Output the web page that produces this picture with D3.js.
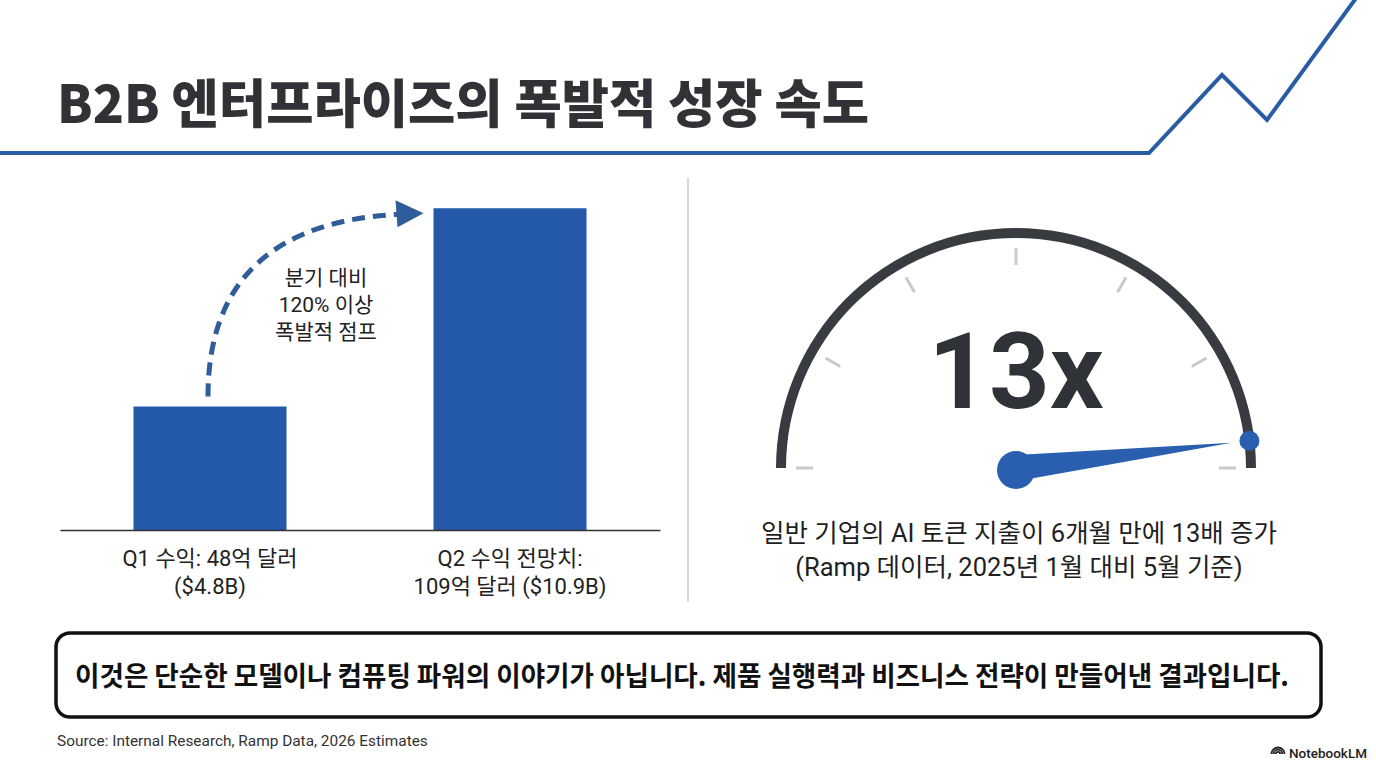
<!DOCTYPE html>
<html>
<head>
<meta charset="utf-8">
<script src="https://cdn.jsdelivr.net/npm/d3@7"></script>
<style>
  body { margin: 0; background: #fff; }
  svg { display: block; }
  text { font-family: Roboto, "Noto Sans CJK KR", sans-serif; }
</style>
</head>
<body>
<div id="chart"></div>
<script>
// bar chart data
var quarters = ["Q1", "Q2"];
var revenue = [4.8, 10.9];
var barLabels = [
  ["Q1 수익: 48억 달러", "($4.8B)"],
  ["Q2 수익 전망치:", "109억 달러 ($10.9B)"]
];
var jumpNote = ["분기 대비", "120% 이상", "폭발적 점프"];

// gauge data
var gaugeValue = 13;
var gaugeMax = 13.5;
var gaugeTicks = [0, 2.25, 4.5, 6.75, 9, 11.25, 13.5];
var gaugeCaption = [
  "일반 기업의 AI 토큰 지출이 6개월 만에 13배 증가",
  "(Ramp 데이터, 2025년 1월 대비 5월 기준)"
];

// header trend line (x, y in px)
var trendPts = [[0, 153], [1149, 153], [1222, 75], [1267, 120], [1362, -10]];

var W = 1376, H = 768;
var blue = "#2459a9";
var dark = "#2f3237";

var svg = d3.select("#chart").append("svg")
  .attr("width", W)
  .attr("height", H);

// title
svg.append("text")
  .attr("x", 57)
  .attr("y", 123)
  .attr("textLength", 812)
  .attr("lengthAdjust", "spacingAndGlyphs")
  .style("font-family", "'Noto Sans CJK KR', sans-serif")
  .style("font-weight", 900)
  .style("font-size", "52px")
  .style("fill", "#303236")
  .text("B2B 엔터프라이즈의 폭발적 성장 속도");

svg.append("path")
  .datum(trendPts)
  .attr("d", d3.line())
  .attr("fill", "none")
  .attr("stroke", "#2a5ca4")
  .attr("stroke-width", 4)
  .attr("stroke-linejoin", "miter");

// divider
svg.append("line")
  .attr("x1", 688).attr("x2", 688)
  .attr("y1", 178).attr("y2", 602)
  .style("stroke", "#cfcfcf")
  .style("stroke-width", 1.5);

// ---- bar chart ----
var x = d3.scaleBand()
  .domain(quarters)
  .range([60, 660])
  .paddingInner(0.49)
  .paddingOuter(0.245);

var y = d3.scaleLinear()
  .domain([1, 11])
  .range([530, 205]);

var bars = svg.append("g");

bars.selectAll("rect").data(revenue).enter().append("rect")
  .attr("x", function(d, i){ return x(quarters[i]); })
  .attr("y", function(d){ return y(d); })
  .attr("width", x.bandwidth())
  .attr("height", function(d){ return y(1) - y(d); })
  .attr("fill", blue);

var xAxis = svg.append("g")
  .attr("transform", "translate(0,530)")
  .call(d3.axisBottom(x).tickSize(0).tickFormat(""));
xAxis.select(".domain").attr("stroke", "#333").attr("stroke-width", 1.5);

barLabels.forEach(function(lines, i){
  var cx = x(quarters[i]) + x.bandwidth() / 2;
  svg.append("text")
    .attr("text-anchor", "middle")
    .style("font-size", "22px")
    .style("fill", "#222")
    .selectAll("tspan").data(lines).enter().append("tspan")
      .attr("x", cx)
      .attr("y", function(d, j){ return 566 + j * 28; })
      .text(function(d){ return d; });
});

// dashed jump arrow from top of Q1 to top of Q2
var x0 = x(quarters[0]) + x.bandwidth() / 2 - 2;
var y0 = y(revenue[0]) - 10;
var x1 = x(quarters[1]) - 34;
var y1 = y(revenue[1]) + 6;

svg.append("path")
  .attr("d", "M" + x0 + "," + y0 + " C" + x0 + "," + (y0 - 120) + " " + (x0 + 70) + "," + (y1 + 6) + " " + x1 + "," + y1)
  .attr("fill", "none")
  .attr("stroke", "#2f5d99")
  .attr("stroke-width", 5)
  .attr("stroke-dasharray", "13,8");

svg.append("path")
  .attr("d", "M" + (x1 - 4) + "," + (y1 - 14) + " L" + (x1 + 24) + "," + (y1 - 1) + " L" + (x1 - 2) + "," + (y1 + 13) + " Z")
  .attr("fill", "#2f5d99");

svg.append("text")
  .attr("text-anchor", "middle")
  .style("font-size", "21px")
  .style("fill", "#222")
  .selectAll("tspan").data(jumpNote).enter().append("tspan")
    .attr("x", 326)
    .attr("y", function(d, j){ return 285 + j * 27; })
    .text(function(d){ return d; });

// ---- gauge ----
var gcx = 1016, gcy = 468, gr = 235;
var g = svg.append("g").attr("transform", "translate(" + gcx + "," + gcy + ")");

var angle = d3.scaleLinear()
  .domain([0, gaugeMax])
  .range([-Math.PI / 2, Math.PI / 2]);

g.append("path")
  .attr("d", d3.arc()
    .innerRadius(gr - 5)
    .outerRadius(gr + 5)
    .startAngle(angle(0))
    .endAngle(angle(gaugeMax)))
  .attr("fill", "#383b40");

g.selectAll(".tick").data(gaugeTicks).enter().append("line")
  .attr("class", "tick")
  .attr("x1", function(d){ return Math.sin(angle(d)) * (gr - 32); })
  .attr("y1", function(d){ return -Math.cos(angle(d)) * (gr - 32); })
  .attr("x2", function(d){ return Math.sin(angle(d)) * (gr - 15); })
  .attr("y2", function(d){ return -Math.cos(angle(d)) * (gr - 15); })
  .attr("stroke", "#c9c9c9")
  .attr("stroke-width", 3);

g.append("text")
  .attr("x", 0)
  .attr("y", -60)
  .attr("text-anchor", "middle")
  .style("font-family", "Roboto, 'Noto Sans', sans-serif")
  .style("font-weight", 700)
  .style("font-size", "106px")
  .style("fill", dark)
  .text("13x");

// needle
var a = angle(gaugeValue);
var tipR = gr - 18, hubW = 13;
var tx = Math.sin(a) * tipR, ty = -Math.cos(a) * tipR;
var px = Math.cos(a) * hubW, py = Math.sin(a) * hubW;

g.append("path")
  .attr("d", "M" + (-px) + "," + (-py) + " L" + tx + "," + ty + " L" + px + "," + py + " Z")
  .attr("fill", "#2a5fb0");

g.append("circle")
  .attr("cx", 0).attr("cy", 2)
  .attr("r", 19)
  .attr("fill", "#2a5fb0");

g.append("circle")
  .attr("cx", Math.sin(a) * gr)
  .attr("cy", -Math.cos(a) * gr)
  .attr("r", 10)
  .attr("fill", "#2a5fb0");

svg.append("text")
  .attr("text-anchor", "middle")
  .style("font-size", "25.5px")
  .style("fill", "#1f1f1f")
  .selectAll("tspan").data(gaugeCaption).enter().append("tspan")
    .attr("x", 1019)
    .attr("y", function(d, j){ return 542 + j * 34; })
    .text(function(d){ return d; });

// ---- message box ----
svg.append("rect")
  .attr("x", 56).attr("y", 633)
  .attr("width", 1265).attr("height", 84)
  .attr("rx", 14)
  .attr("fill", "#fff")
  .attr("stroke", "#111")
  .attr("stroke-width", 3.5);

svg.append("text")
  .attr("x", 682)
  .attr("y", 686)
  .attr("text-anchor", "middle")
  .attr("textLength", 1214)
  .attr("lengthAdjust", "spacingAndGlyphs")
  .style("font-family", "'Noto Sans CJK KR', sans-serif")
  .style("font-weight", 700)
  .style("font-size", "27px")
  .style("fill", "#111")
  .text("이것은 단순한 모델이나 컴퓨팅 파워의 이야기가 아닙니다. 제품 실행력과 비즈니스 전략이 만들어낸 결과입니다.");

svg.append("text")
  .attr("x", 57)
  .attr("y", 746)
  .style("font-size", "15.4px")
  .style("fill", "#333")
  .text("Source: Internal Research, Ramp Data, 2026 Estimates");

// NotebookLM mark
var logo = svg.append("g").attr("transform", "translate(1278,754)");
[6.5, 4.3, 2.1].forEach(function(r){
  logo.append("path")
    .attr("d", d3.arc().innerRadius(r - 0.9).outerRadius(r + 0.9).startAngle(-Math.PI / 2).endAngle(Math.PI / 2))
    .attr("fill", "#222");
});
svg.append("text")
  .attr("x", 1289)
  .attr("y", 758)
  .style("font-size", "13.5px")
  .style("font-weight", 500)
  .style("fill", "#222")
  .text("NotebookLM");
</script>
</body>
</html>
